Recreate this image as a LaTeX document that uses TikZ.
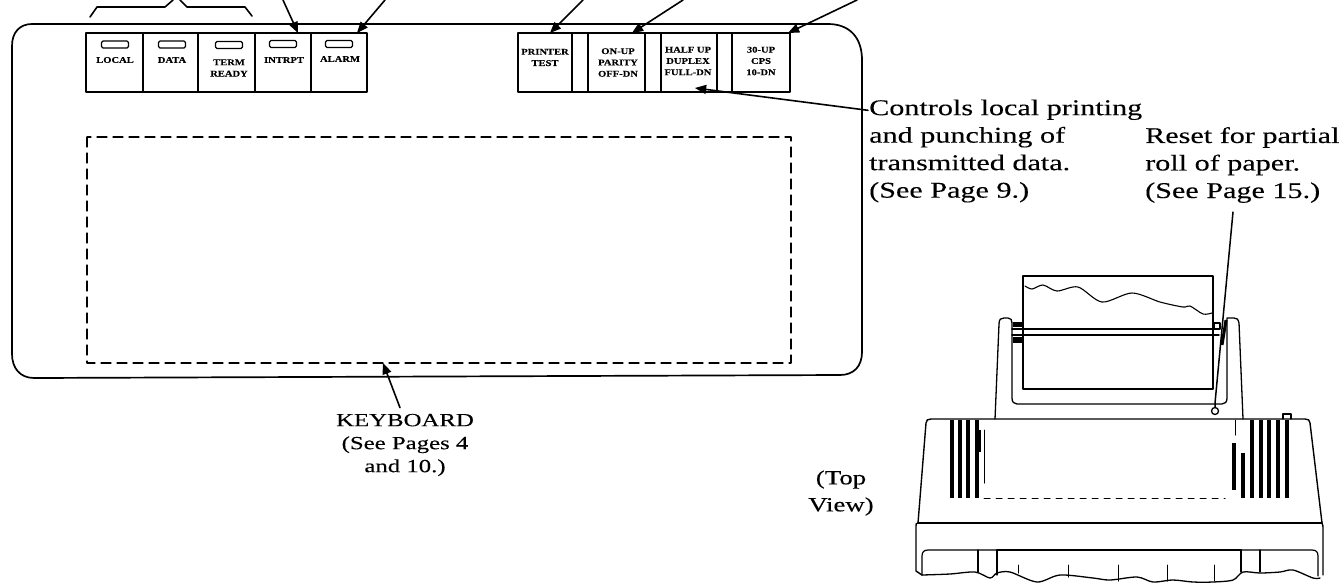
\documentclass[tikz,border=0pt]{standalone}
\usepackage{fontspec}
\usepackage{tikz}
\usetikzlibrary{arrows}
\setmainfont{Liberation Serif}
\newfontfamily\notefont[FakeStretch=1.34,FakeBold=0.2]{Liberation Serif}
\newfontfamily\keyfont[FakeStretch=1.2,FakeBold=0.2]{Liberation Serif Bold}
\tikzset{
  note/.style={inner sep=0pt,align=left,font=\notefont\fontsize{22.5}{27.5}\selectfont},
  smallnote/.style={inner sep=0pt,align=center,font=\notefont\fontsize{18.5}{23}\selectfont},
  keytext/.style={inner sep=0pt,align=center,font=\keyfont\fontsize{8.8}{11.3}\selectfont},
  keybox/.style={draw,line width=1.6pt,inner sep=0pt,minimum height=59pt},
  lamp/.style={draw,line width=1.2pt,rounded corners=1.5pt,inner sep=0pt,minimum width=27pt,minimum height=7pt},
  fin/.style={line width=3.2pt,line cap=butt},
  pointer/.style={line width=1.6pt},
  thin line/.style={line width=1pt}
}
\begin{document}
\begin{tikzpicture}[line cap=round,line join=round,>=triangle 45,x=1pt,y=-1pt]
\useasboundingbox (0,0) rectangle (1340,582);

% panel
\draw[line width=1.7pt] (32,24) -- (828,24) .. controls (850,24) and (862,38) .. (862,60) -- (862,352)
  .. controls (862,366) and (854,375) .. (840,375) -- (34,378) .. controls (20,378) and (12,368) .. (12,354)
  -- (12,46) .. controls (12,32) and (20,24) .. (32,24);
\draw[line width=1.3pt,dashed,dash pattern=on 10pt off 6pt] (87,137) rectangle (791,363);

% indicators
\node[keybox,minimum width=57pt] (local) at (114.5,62.5) {};
\node[keybox,minimum width=55pt] (data) at (170.5,62.5) {};
\node[keybox,minimum width=57pt] (term) at (226.5,62.5) {};
\node[keybox,minimum width=56pt] (intrpt) at (283,62.5) {};
\node[keybox,minimum width=56pt] (alarm) at (339,62.5) {};
\node[lamp] (locallamp) at (115,44.5) {};
\node[lamp] (datalamp) at (172,44.5) {};
\node[lamp] (termlamp) at (229,45) {};
\node[lamp] (intrptlamp) at (283,44) {};
\node[lamp] (alarmlamp) at (339,44) {};
\node[keytext] (localtext) at (115,60) {LOCAL};
\node[keytext] (datatext) at (172,60) {DATA};
\node[keytext] (termtext) at (229,68) {TERM\\READY};
\node[keytext] (intrpttext) at (284,60) {INTRPT};
\node[keytext] (alarmtext) at (340,59) {ALARM};

% switches
\node[keybox,minimum width=54pt] (test) at (545,62.5) {};
\node[keybox,minimum width=16pt] (gapa) at (580,62.5) {};
\node[keybox,minimum width=57pt] (parity) at (616.5,62.5) {};
\node[keybox,minimum width=16pt] (gapb) at (653,62.5) {};
\node[keybox,minimum width=56pt] (duplex) at (689,62.5) {};
\node[keybox,minimum width=15pt] (gapc) at (724.5,62.5) {};
\node[keybox,minimum width=58pt] (cps) at (761,62.5) {};
\node[keytext] (testtext) at (545,57.5) {PRINTER\\TEST};
\node[keytext] (paritytext) at (618,62.5) {ON-UP\\PARITY\\OFF-DN};
\node[keytext] (duplextext) at (688,61) {HALF UP\\DUPLEX\\FULL-DN};
\node[keytext] (cpstext) at (761,61) {30-UP\\CPS\\10-DN};

% pointers along the top
\draw[pointer] (90,17) -- (97,7) -- (165,7) -- (173,0);
\draw[pointer] (180,0) -- (187,7) -- (245,7) -- (252,16);
\coordinate (intrpttip) at (298,33);
\coordinate (alarmtip) at (357,33);
\coordinate (testtip) at (550,33);
\coordinate (paritytip) at (632,33);
\coordinate (cpstip) at (788,33);
\coordinate (duplextip) at (695,88);
\coordinate (keyboardtip) at (383,363);
\draw[pointer,->] (283,0) -- (intrpttip);
\draw[pointer,->] (385,0) -- (alarmtip);
\draw[pointer,->] (583,0) -- (testtip);
\draw[pointer,->] (683,0) -- (paritytip);
\draw[pointer,->] (857,0) -- (cpstip);

% notes
\node[note,anchor=west] (controls) at (869,151) {Controls local printing\\and punching of\\transmitted data.\\(See Page 9.)};
\node[note,anchor=west] (reset) at (1145,165) {Reset for partial\\roll of paper.\\(See Page 15.)};
\node[smallnote] (keyboard) at (405,445) {KEYBOARD\\(See Pages 4\\and 10.)};
\node[inner sep=0pt,align=center,font=\notefont\fontsize{20}{27}\selectfont] (topview) at (841,493) {(Top\\View)};
\draw[pointer,->] (controls.north west) ++(-1,11) -- (duplextip);
\draw[pointer,->] (keyboard.north) ++(-5,-6) -- (keyboardtip);

% paper and platen
\draw[line width=1.1pt] (1023,389) -- (1023,276) -- (1213,276) -- (1213,389) -- cycle;
\draw[line width=1.1pt] plot[smooth] coordinates {(1025,286) (1032,289) (1043,285) (1057,291) (1078,287) (1102,302) (1132,293) (1160,302) (1183,307) (1190,306) (1203,314) (1212,313)};
\draw[line width=1.4pt] (1012,329) -- (1219,329);
\draw[line width=1.4pt] (1012,335) -- (1219,335);
\fill (1013,322) rectangle (1022,327);
\fill (1013,337) rectangle (1022,343);
\draw[line width=1.2pt] (1214,323) rectangle (1220,329);

% stand
\draw[line width=1.3pt] (995,419) -- (999,324) .. controls (999,319) and (1001,318) .. (1004,318) -- (1008,318)
  .. controls (1011,318) and (1012,320) .. (1012,323) -- (1012,398) .. controls (1012,402) and (1014,404) .. (1017,404) -- (1222,404)
  .. controls (1225,404) and (1227,402) .. (1227,398) -- (1227,318) -- (1234,318) .. controls (1237,318) and (1238,319) .. (1239,323) -- (1243,419);
\draw[line width=3pt,line cap=butt] (1226,320) -- (1222,345);
\coordinate (resettip) at (1215,403);
\node[draw,circle,line width=1.3pt,inner sep=0pt,minimum size=7pt] (resetknob) at (1215,411) {};
\draw[pointer,line width=1.5pt] (1233,212) -- (resettip) -- (resetknob);

% printer body
\draw[line width=1.4pt] (918,523) -- (926,423) .. controls (926,420) and (928,419) .. (931,419) -- (1305,419)
  .. controls (1308,419) and (1310,420) .. (1310,423) -- (1322,523);
\draw[line width=1.4pt] (918,523) -- (1322,523);
\draw[line width=1.4pt] (918,523) .. controls (916,523) and (916,524) .. (916,526) -- (916,571) -- (922,575);
\draw[line width=1.4pt] (1322,523) .. controls (1323,525) and (1323,526) .. (1323,530) -- (1323,575);
\draw[line width=1.2pt] (922,575) -- (922,556) .. controls (922,552) and (924,550) .. (928,550) -- (997,550);
\draw[line width=2pt] (997,550) -- (1241,550);
\draw[line width=1.2pt] (1241,550) -- (1312,550) .. controls (1316,550) and (1318,552) .. (1318,556) -- (1318,576);
\draw[line width=1.2pt] (978,550) -- (978,572);
\draw[line width=1.2pt] (997,550) -- (997,575);
\draw[line width=1.2pt] (1241,550) -- (1241,572);
\draw[line width=1.2pt] (1260,550) -- (1260,572);

% vents
\foreach \x in {952,960,968,977,1252,1261,1269,1278,1287}
  \draw[fin] (\x,420) -- (\x,498);
\draw[fin] (1243,453) -- (1243,498);
\draw[fin] (1234,443) -- (1234,490);
\draw[fin] (979,430) -- (979,452);
\draw[thin line] (984,430) -- (984,483);
\draw[thin line] (1235,420) -- (1235,435);
\draw[thin line,dashed,dash pattern=on 6pt off 6pt] (984,498) -- (1225,498);
\draw[line width=1.2pt] (1283,419) -- (1283,414) -- (1291,414) -- (1291,419);

% torn edge
\draw[line width=1.3pt] plot[smooth] coordinates {(922,575) (950,574) (975,572) (990,578) (997,573) (1010,572) (1037,582) (1060,575) (1093,578) (1110,580) (1137,577) (1153,582) (1173,580) (1193,582) (1213,582) (1233,580) (1243,572) (1260,573) (1280,572) (1293,570) (1313,578) (1320,578)};
\foreach \x/\y in {1018/573,1068/577,1118/581,1167/581,1214/581}
  \draw[thin line] (\x,565) -- (\x,\y);
\end{tikzpicture}
\end{document}
